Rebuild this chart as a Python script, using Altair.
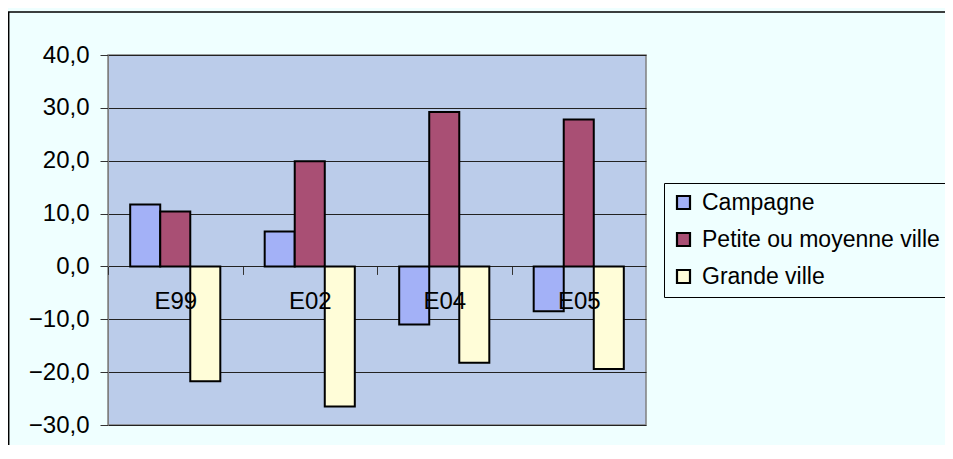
import altair as alt
import pandas as pd

categories = ["E99", "E02", "E04", "E05"]
series = ["Campagne", "Petite ou moyenne ville", "Grande ville"]
campagne = [11.7, 6.6, -11.0, -8.5]
petite = [10.4, 19.9, 29.2, 27.8]
grande = [-21.7, -26.5, -18.2, -19.4]
colors = ["#A3B1F7", "#A94F74", "#FFFDD8"]
y_ticks = [-30, -20, -10, 0, 10, 20, 30, 40]

rows = []
for s, vals in zip(series, [campagne, petite, grande]):
    for c, v in zip(categories, vals):
        rows.append({"cat": c, "serie": s, "val": v})
df = pd.DataFrame(rows)

W, H = 538, 370
FONT = "Liberation Sans"
FS = 24
y0 = H * 40 / 70.0
step = W / 4.0

bars = alt.Chart(df).mark_bar(stroke="black", strokeWidth=2).encode(
    x=alt.X("cat:N", sort=categories,
            scale=alt.Scale(paddingInner=0.33, paddingOuter=0.165),
            axis=alt.Axis(title=None, orient="bottom", offset=-(H - y0),
                          domain=False, ticks=True,
                          tickOffset=-step / 2, labelOffset=step / 2,
                          tickSize=8, tickColor="#333333", labelAngle=0,
                          labelFontSize=FS, labelColor="black", labelFont=FONT,
                          labelPadding=15, zindex=1, grid=False)),
    xOffset=alt.XOffset("serie:N", sort=series, scale=alt.Scale(paddingInner=0, paddingOuter=0)),
    y=alt.Y("val:Q", scale=alt.Scale(domain=[-30, 40], nice=False, zero=False),
            axis=alt.Axis(title=None, values=y_ticks, grid=True, gridColor="#222222",
                          gridWidth=1, domainColor="#808080", tickColor="#333333",
                          tickSize=8, labelFontSize=FS, labelColor="black", labelFont=FONT,
                          labelPadding=11,
                          labelExpr="replace(format(datum.value, '.1f'), '.', ',')")),
    color=alt.Color("serie:N", sort=series,
                    scale=alt.Scale(domain=series, range=colors),
                    legend=alt.Legend(title=None, orient="none", legendX=556, legendY=128,
                                      strokeColor="black", fillColor="#EFFFFF",
                                      padding=8, symbolType="square", symbolSize=169,
                                      symbolStrokeColor="black", symbolStrokeWidth=2.2,
                                      symbolOpacity=1,
                                      labelFontSize=23, labelFont=FONT, labelColor="black",
                                      labelOffset=7, rowPadding=13, labelLimit=400)),
)

frame = alt.Chart(alt.Data(values=[{}])).mark_rect(
    filled=False, stroke="black", strokeWidth=1.5
).encode(
    x=alt.value(-99.3), x2=alt.value(W + 400),
    y=alt.value(-43), y2=alt.value(H + 100),
)

chart = alt.layer(frame, bars).properties(
    width=W, height=H,
    autosize=alt.AutoSizeParams(type="none"),
    padding={"left": 100, "top": 47, "right": 299, "bottom": 20},
    background="#EFFFFF",
).configure_view(
    fill="#BBCCEA", stroke="#808080", strokeWidth=1.5
)

chart.save("out.html", embed_options={"renderer": "svg", "actions": False})
